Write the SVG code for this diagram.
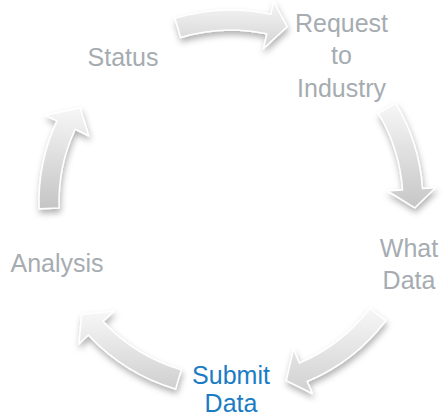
<svg xmlns="http://www.w3.org/2000/svg" width="445" height="417" viewBox="0 0 445 417">
<style>
.lbl{font-family:"Liberation Sans",Arial,sans-serif;font-size:25px;fill:#a6acb1;text-anchor:middle}
.blue{fill:#1a7cc4}
.arr{stroke:#ffffff;stroke-width:1.5;stroke-linejoin:round;filter:url(#sh)}
</style>
<defs>
<filter id="sh" x="-30%" y="-30%" width="160%" height="160%">
<feDropShadow dx="1" dy="4" stdDeviation="3" flood-color="#000" flood-opacity="0.3"/>
</filter>
<linearGradient id="g1" gradientUnits="userSpaceOnUse" x1="0" y1="0" x2="0" y2="50"><stop offset="0" stop-color="#f7f7f7"/><stop offset="1" stop-color="#d2d2d2"/></linearGradient>
<linearGradient id="g2" gradientUnits="userSpaceOnUse" x1="0" y1="103" x2="0" y2="208"><stop offset="0" stop-color="#f7f7f7"/><stop offset="1" stop-color="#c6c6c6"/></linearGradient>
<linearGradient id="g3" gradientUnits="userSpaceOnUse" x1="0" y1="308" x2="0" y2="394"><stop offset="0" stop-color="#f7f7f7"/><stop offset="1" stop-color="#d0d0d0"/></linearGradient>
<linearGradient id="g4" gradientUnits="userSpaceOnUse" x1="0" y1="311" x2="0" y2="390"><stop offset="0" stop-color="#f7f7f7"/><stop offset="1" stop-color="#cfcfcf"/></linearGradient>
<linearGradient id="g5" gradientUnits="userSpaceOnUse" x1="0" y1="107" x2="0" y2="209"><stop offset="0" stop-color="#f7f7f7"/><stop offset="1" stop-color="#c4c4c4"/></linearGradient>
</defs>
<g id="connectors">
<path class="arr" fill="url(#g1)" d="M174.9,18.4 A192,192 0 0 1 270.9,14.2 L273.6,1.5 L287.2,26.8 L263.6,48.4 L266.8,33.8 A172,172 0 0 0 180.7,37.5 Z"/>
<path class="arr" fill="url(#g2)" d="M395.6,103.1 A192,192 0 0 1 422.5,188.6 L435.5,187.7 L414.9,207.8 L387.6,191 L402.6,190 A172,172 0 0 0 378.4,113.4 Z"/>
<path class="arr" fill="url(#g3)" d="M385.7,320.7 A195,195 0 0 1 307.2,381.5 L312.3,393.5 L286.3,380.6 L293.5,349.3 L299.4,363.1 A175,175 0 0 0 369.8,308.5 Z"/>
<path class="arr" fill="url(#g4)" d="M175.6,389 A195,195 0 0 1 88.4,335 L78.9,343.9 L81.7,314.5 L114,311.1 L103,321.4 A175,175 0 0 0 181.3,369.8 Z"/>
<path class="arr" fill="url(#g5)" d="M39.1,208.7 A192,192 0 0 1 57,120.9 L45.2,115.4 L80.1,107.7 L88.7,135.7 L75.1,129.3 A172,172 0 0 0 59.1,208 Z"/>
</g>
<g id="status"><text class="lbl" x="123" y="66">Status</text></g>
<g id="request"><text class="lbl" x="341.5" y="32">Request</text><text class="lbl" x="341.5" y="64">to</text><text class="lbl" x="341.5" y="97">Industry</text></g>
<g id="whatdata"><text class="lbl" x="409" y="257">What</text><text class="lbl" x="409" y="289">Data</text></g>
<g id="submit"><text class="lbl blue" x="231" y="384">Submit</text><text class="lbl blue" x="231" y="412">Data</text></g>
<g id="analysis"><text class="lbl" x="57" y="272">Analysis</text></g>
</svg>
